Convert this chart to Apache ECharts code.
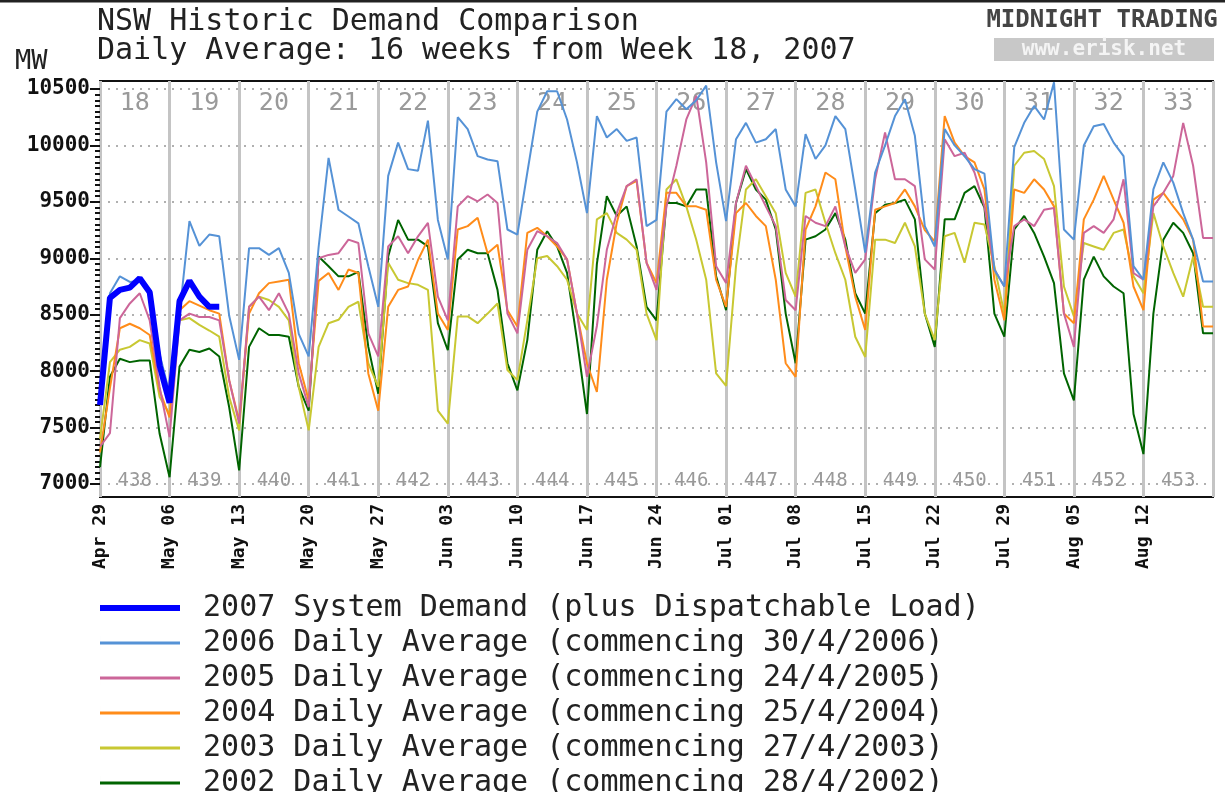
<!DOCTYPE html>
<html>
<head>
<meta charset="utf-8">
<title>NSW Historic Demand Comparison</title>
<script src="https://cdn.jsdelivr.net/npm/echarts@6/dist/echarts.min.js"></script>
<style>
  html, body { margin: 0; padding: 0; background: #fff; }
  #chart { width: 1225px; height: 792px; }
</style>
</head>
<body>
<div id="chart"></div>
<script>
// week numbers (top of plot) and week ids (bottom of plot)
const weekNumbers = ['18','19','20','21','22','23','24','25','26','27','28','29','30','31','32','33'];
const weekIds = ['438','439','440','441','442','443','444','445','446','447','448','449','450','451','452','453'];
// x axis labels, one per week start (Sundays)
const dateLabels = ['Apr 29','May 06','May 13','May 20','May 27','Jun 03','Jun 10','Jun 17',
  'Jun 24','Jul 01','Jul 08','Jul 15','Jul 22','Jul 29','Aug 05','Aug 12'];

const seriesNames = [
  '2007 System Demand (plus Dispatchable Load)',
  '2006 Daily Average (commencing 30/4/2006)',
  '2005 Daily Average (commencing 24/4/2005)',
  '2004 Daily Average (commencing 25/4/2004)',
  '2003 Daily Average (commencing 27/4/2003)',
  '2002 Daily Average (commencing 28/4/2002)'
];

// daily average MW, one value per day from week 18
const demand2007 = [7700,8650,8720,8740,8824,8700,8050,7720, 8620,8800,8660,8570,8570];

const demand2006 = [7800,8690,8840,8790,8800,8700,8150,7800,
  8500,9330,9110,9210,9195,8490,8100,
  9090,9090,9030,9090,8870,8330,8130,
  9100,9890,9430,9370,9310,8930,8570,
  9730,10025,9790,9775,10220,9340,8990,
  10250,10145,9905,9875,9860,9255,9210,
  9760,10300,10480,10480,10230,9850,9400,
  10260,10070,10145,10040,10070,9285,9340,
  10300,10410,10320,10400,10530,9850,9330,
  10055,10200,10025,10055,10145,9610,9460,
  10100,9880,10000,10260,10145,9610,9050,
  9760,10000,10260,10410,10085,9285,9105,
  10145,10000,9905,9790,9750,8900,8750,
  9985,10200,10350,10230,10560,9255,9165,
  10000,10170,10190,10025,9905,8930,8810,
  9610,9850,9670,9400,9165,8795,8795];

const demand2005 = [7330,7450,8470,8600,8690,8450,7860,7415,
  8450,8510,8480,8480,8450,7920,7535,
  8570,8660,8540,8690,8510,7980,7680,
  9000,9030,9045,9165,9135,8335,8130,
  9105,9195,9045,9195,9313,8660,8450,
  9460,9550,9505,9565,9490,8510,8335,
  9075,9240,9195,9135,8990,8510,7950,
  8400,9075,9400,9640,9700,8960,8720,
  9460,9820,10230,10440,9850,8930,8780,
  9490,9820,9640,9460,9285,8630,8540,
  9375,9315,9285,9460,9105,8870,8990,
  9700,10115,9700,9700,9640,8990,8900,
  10055,9905,9935,9760,9460,8900,8750,
  9285,9345,9285,9430,9445,8510,8215,
  9225,9285,9225,9345,9700,8870,8810,
  9460,9580,9730,10200,9820,9180,9180];

const demand2004 = [7280,7850,8380,8420,8380,8320,7830,7590,
  8540,8620,8580,8540,8510,7920,7560,
  8510,8690,8780,8795,8810,8070,7740,
  8800,8870,8720,8900,8870,7980,7650,
  8570,8720,8750,8985,9165,8510,8365,
  9255,9285,9360,9045,9120,8540,8395,
  9225,9270,9195,9105,8990,8510,8070,
  7815,8810,9315,9640,9685,8960,8780,
  9580,9580,9460,9460,9430,8810,8570,
  9400,9490,9375,9285,8810,8070,7950,
  9255,9460,9760,9700,9105,8660,8365,
  9430,9460,9490,9610,9460,9250,9150,
  10260,10025,9905,9850,9610,8810,8450,
  9610,9580,9700,9610,9460,8510,8425,
  9345,9520,9730,9520,9315,8750,8540,
  9520,9580,9460,9345,9165,8395,8395];

const demand2003 = [7400,8080,8190,8215,8275,8245,7770,7620,
  8450,8470,8410,8360,8305,7770,7475,
  8570,8660,8630,8570,8450,7860,7475,
  8215,8425,8455,8570,8615,8070,7860,
  8960,8810,8780,8765,8720,7650,7535,
  8485,8485,8425,8510,8600,8010,7920,
  8450,9000,9020,8930,8810,8510,8365,
  9345,9400,9225,9165,9075,8510,8275,
  9610,9700,9460,9165,8810,7980,7870,
  8930,9610,9700,9550,9400,8870,8660,
  9580,9610,9315,9045,8810,8305,8125,
  9165,9165,9135,9315,9105,8510,8275,
  9195,9225,8960,9315,9300,8930,8510,
  9820,9935,9950,9880,9640,8750,8485,
  9135,9105,9075,9225,9255,8840,8690,
  9400,9105,8870,8660,9015,8570,8570];

const demand2002 = [7150,7950,8110,8080,8095,8095,7445,7060,
  8040,8190,8170,8200,8130,7680,7120,
  8215,8380,8320,8320,8305,7860,7650,
  9015,8930,8840,8840,8880,8215,7800,
  9015,9340,9165,9165,9105,8425,8185,
  8990,9075,9045,9045,8720,8070,7830,
  8275,9075,9240,9105,8870,8275,7620,
  8950,9550,9375,9460,9105,8570,8450,
  9490,9490,9460,9610,9610,8840,8540,
  9490,9790,9610,9520,9255,8510,8070,
  9165,9195,9255,9400,9165,8690,8510,
  9400,9475,9490,9520,9345,8510,8215,
  9345,9345,9580,9640,9450,8510,8305,
  9255,9375,9225,9015,8780,7980,7740,
  8810,9015,8840,8750,8690,7620,7265,
  8510,9165,9315,9225,9045,8335,8335];

const mono = "'DejaVu Sans Mono', 'Liberation Mono', monospace";

// legend swatches: a bar of the given thickness centred in a 80x14 box
const thickIcon = 'path://M0,4H80V10H0Z M0,0H0.01V14H0Z';
const thinIcon = 'path://M0,5.5H80V8.5H0Z M0,0H0.01V14H0Z';

function lineSeries(name, values, color, width) {
  return {
    name: name,
    type: 'line',
    xAxisIndex: 0,
    yAxisIndex: 0,
    data: values.map((v, i) => [i, v]),
    symbol: 'none',
    clip: false,
    lineStyle: { color: color, width: width },
    itemStyle: { color: color },
    emphasis: { disabled: true }
  };
}

const chart = echarts.init(document.getElementById('chart'));

const option = {
  animation: false,
  backgroundColor: '#fff',
  title: [
    {
      text: 'NSW Historic Demand Comparison\nDaily Average: 16 weeks from Week 18, 2007',
      left: 97, top: 8, padding: 0,
      textStyle: { fontFamily: mono, fontSize: 30, fontWeight: 'normal', color: '#222', lineHeight: 29 }
    },
    {
      text: 'MW', left: 15, top: 48, padding: 0,
      textStyle: { fontFamily: mono, fontSize: 27, fontWeight: 'normal', color: '#222' }
    }
  ],
  graphic: [
    { type: 'line', shape: { x1: 0, y1: 1, x2: 1225, y2: 1 }, style: { stroke: '#222', lineWidth: 3 } },
    { type: 'text', x: 1102, y: 21, style: { text: 'MIDNIGHT TRADING', font: 'bold 24px ' + mono, fill: '#444', align: 'center', verticalAlign: 'middle' } },
    { type: 'rect', shape: { x: 994, y: 38, width: 220, height: 23 }, style: { fill: '#c8c8c8' } },
    { type: 'text', x: 1104, y: 50, style: { text: 'www.erisk.net', font: 'bold 21px ' + mono, fill: '#f4f4f4', align: 'center', verticalAlign: 'middle' } }
  ],
  legend: {
    orient: 'vertical',
    left: 100,
    top: 593,
    height: 240,
    padding: 0,
    itemWidth: 80,
    itemHeight: 14,
    itemGap: 5,
    formatter: (name) => ' ' + name,
    textStyle: { fontFamily: mono, fontSize: 30, color: '#222', lineHeight: 30 },
    data: [
      { name: seriesNames[0], icon: thickIcon },
      { name: seriesNames[1], icon: thinIcon },
      { name: seriesNames[2], icon: thinIcon },
      { name: seriesNames[3], icon: thinIcon },
      { name: seriesNames[4], icon: thinIcon },
      { name: seriesNames[5], icon: thinIcon }
    ]
  },
  grid: [
    { left: 100, right: 12, top: 89, bottom: 308, show: false, outerBoundsMode: 'none' },
    { left: 100, right: 12, top: 81, bottom: 295, show: true, borderColor: '#111', borderWidth: 2, outerBoundsMode: 'none' }
  ],
  xAxis: [
    { type: 'value', gridIndex: 0, min: 0, max: 112, show: false },
    {
      type: 'value', gridIndex: 1, min: 0, max: 112, interval: 7,
      axisLine: { show: false },
      axisTick: { show: false },
      splitLine: { show: true, lineStyle: { color: '#c4c4c4', width: 3 } },
      axisLabel: {
        rotate: 90, margin: 7, fontFamily: mono, fontSize: 18, fontWeight: 'bold', color: '#111',
        formatter: (v) => dateLabels[v / 7] || ''
      }
    },
    {
      type: 'category', gridIndex: 0, position: 'top', data: weekNumbers,
      axisLine: { show: false }, axisTick: { show: false }, splitLine: { show: false },
      axisLabel: { inside: true, interval: 0, margin: 2, fontFamily: mono, fontSize: 25, color: '#9a9a9a' }
    },
    {
      type: 'category', gridIndex: 1, position: 'bottom', data: weekIds,
      axisLine: { show: false }, axisTick: { show: false }, splitLine: { show: false },
      axisLabel: { inside: true, interval: 0, margin: 6, fontFamily: mono, fontSize: 19, color: '#999' }
    }
  ],
  yAxis: [
    {
      type: 'value', gridIndex: 0, min: 7000, max: 10500, interval: 500,
      axisLine: { show: false },
      axisTick: { show: true, length: 10, lineStyle: { color: '#111', width: 2 } },
      minorTick: { show: true, splitNumber: 10, length: 5, lineStyle: { color: '#111', width: 2 } },
      splitLine: { show: true, lineStyle: { color: '#b0b0b0', type: [2, 6], width: 2 } },
      axisLabel: { margin: 10, fontFamily: mono, fontSize: 21, fontWeight: 'bold', color: '#111', formatter: (v) => String(v) }
    },
    { type: 'value', gridIndex: 1, min: 0, max: 1, show: false }
  ],
  series: [
    lineSeries(seriesNames[5], demand2002, '#006400', 2),
    lineSeries(seriesNames[4], demand2003, '#c8c832', 2),
    lineSeries(seriesNames[3], demand2004, '#ff8c1a', 2),
    lineSeries(seriesNames[2], demand2005, '#cc6699', 2),
    lineSeries(seriesNames[1], demand2006, '#5592d6', 2),
    lineSeries(seriesNames[0], demand2007, '#0000ff', 6)
  ]
};

chart.setOption(option);
</script>
</body>
</html>
